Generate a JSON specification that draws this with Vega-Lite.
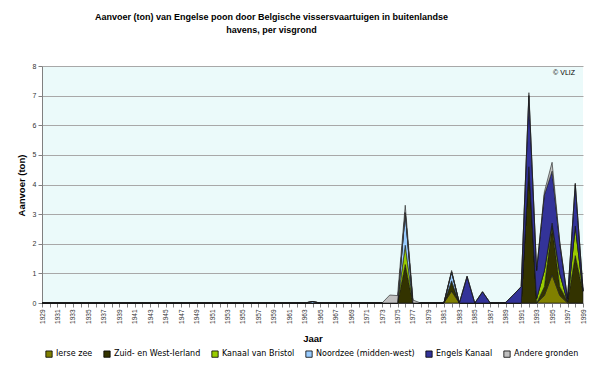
{
  "$schema": "https://vega.github.io/schema/vega-lite/v6.json",
  "autosize": "none",
  "width": 541,
  "height": 237,
  "padding": {"left": 42, "top": 66, "right": 17, "bottom": 65},
  "background": "#FFFFFF",
  "config": {
    "font": "Liberation Sans",
    "view": {"fill": "#EBFAFA", "stroke": null}
  },
  "title": {
    "text": ["Aanvoer (ton) van Engelse poon door Belgische vissersvaartuigen in buitenlandse", "havens, per visgrond"],
    "fontSize": 9,
    "fontWeight": "bold",
    "color": "#000000",
    "anchor": "middle",
    "frame": "group",
    "dx": -41,
    "offset": 27,
    "lineHeight": 13
  },
  "resolve": {"axis": {"x": "independent", "y": "independent"}},
  "datasets": {
    "series": [
      {"key": "ierse", "grond": "Ierse zee", "volgorde": 1},
      {"key": "zuid", "grond": "Zuid- en West-Ierland", "volgorde": 2},
      {"key": "bristol", "grond": "Kanaal van Bristol", "volgorde": 3},
      {"key": "noordzee", "grond": "Noordzee (midden-west)", "volgorde": 4},
      {"key": "engels", "grond": "Engels Kanaal", "volgorde": 5},
      {"key": "andere", "grond": "Andere gronden", "volgorde": 6}
    ],
    "jaren": [
      {"Jaar": 1929, "ierse": 0, "zuid": 0, "bristol": 0, "noordzee": 0, "engels": 0, "andere": 0},
      {"Jaar": 1930, "ierse": 0, "zuid": 0, "bristol": 0, "noordzee": 0, "engels": 0, "andere": 0},
      {"Jaar": 1931, "ierse": 0, "zuid": 0, "bristol": 0, "noordzee": 0, "engels": 0, "andere": 0},
      {"Jaar": 1932, "ierse": 0, "zuid": 0, "bristol": 0, "noordzee": 0, "engels": 0, "andere": 0},
      {"Jaar": 1933, "ierse": 0, "zuid": 0, "bristol": 0, "noordzee": 0, "engels": 0, "andere": 0},
      {"Jaar": 1934, "ierse": 0, "zuid": 0, "bristol": 0, "noordzee": 0, "engels": 0, "andere": 0},
      {"Jaar": 1935, "ierse": 0, "zuid": 0, "bristol": 0, "noordzee": 0, "engels": 0, "andere": 0},
      {"Jaar": 1936, "ierse": 0, "zuid": 0, "bristol": 0, "noordzee": 0, "engels": 0, "andere": 0},
      {"Jaar": 1937, "ierse": 0, "zuid": 0, "bristol": 0, "noordzee": 0, "engels": 0, "andere": 0},
      {"Jaar": 1938, "ierse": 0, "zuid": 0, "bristol": 0, "noordzee": 0, "engels": 0, "andere": 0},
      {"Jaar": 1939, "ierse": 0, "zuid": 0, "bristol": 0, "noordzee": 0, "engels": 0, "andere": 0},
      {"Jaar": 1940, "ierse": 0, "zuid": 0, "bristol": 0, "noordzee": 0, "engels": 0, "andere": 0},
      {"Jaar": 1941, "ierse": 0, "zuid": 0, "bristol": 0, "noordzee": 0, "engels": 0, "andere": 0},
      {"Jaar": 1942, "ierse": 0, "zuid": 0, "bristol": 0, "noordzee": 0, "engels": 0, "andere": 0},
      {"Jaar": 1943, "ierse": 0, "zuid": 0, "bristol": 0, "noordzee": 0, "engels": 0, "andere": 0},
      {"Jaar": 1944, "ierse": 0, "zuid": 0, "bristol": 0, "noordzee": 0, "engels": 0, "andere": 0},
      {"Jaar": 1945, "ierse": 0, "zuid": 0, "bristol": 0, "noordzee": 0, "engels": 0, "andere": 0},
      {"Jaar": 1946, "ierse": 0, "zuid": 0, "bristol": 0, "noordzee": 0, "engels": 0, "andere": 0},
      {"Jaar": 1947, "ierse": 0, "zuid": 0, "bristol": 0, "noordzee": 0, "engels": 0, "andere": 0},
      {"Jaar": 1948, "ierse": 0, "zuid": 0, "bristol": 0, "noordzee": 0, "engels": 0, "andere": 0},
      {"Jaar": 1949, "ierse": 0, "zuid": 0, "bristol": 0, "noordzee": 0, "engels": 0, "andere": 0},
      {"Jaar": 1950, "ierse": 0, "zuid": 0, "bristol": 0, "noordzee": 0, "engels": 0, "andere": 0},
      {"Jaar": 1951, "ierse": 0, "zuid": 0, "bristol": 0, "noordzee": 0, "engels": 0, "andere": 0},
      {"Jaar": 1952, "ierse": 0, "zuid": 0, "bristol": 0, "noordzee": 0, "engels": 0, "andere": 0},
      {"Jaar": 1953, "ierse": 0, "zuid": 0, "bristol": 0, "noordzee": 0, "engels": 0, "andere": 0},
      {"Jaar": 1954, "ierse": 0, "zuid": 0, "bristol": 0, "noordzee": 0, "engels": 0, "andere": 0},
      {"Jaar": 1955, "ierse": 0, "zuid": 0, "bristol": 0, "noordzee": 0, "engels": 0, "andere": 0},
      {"Jaar": 1956, "ierse": 0, "zuid": 0, "bristol": 0, "noordzee": 0, "engels": 0, "andere": 0},
      {"Jaar": 1957, "ierse": 0, "zuid": 0, "bristol": 0, "noordzee": 0, "engels": 0, "andere": 0},
      {"Jaar": 1958, "ierse": 0, "zuid": 0, "bristol": 0, "noordzee": 0, "engels": 0, "andere": 0},
      {"Jaar": 1959, "ierse": 0, "zuid": 0, "bristol": 0, "noordzee": 0, "engels": 0, "andere": 0},
      {"Jaar": 1960, "ierse": 0, "zuid": 0, "bristol": 0, "noordzee": 0, "engels": 0, "andere": 0},
      {"Jaar": 1961, "ierse": 0, "zuid": 0, "bristol": 0, "noordzee": 0, "engels": 0, "andere": 0},
      {"Jaar": 1962, "ierse": 0, "zuid": 0, "bristol": 0, "noordzee": 0, "engels": 0, "andere": 0},
      {"Jaar": 1963, "ierse": 0, "zuid": 0, "bristol": 0, "noordzee": 0, "engels": 0, "andere": 0},
      {"Jaar": 1964, "ierse": 0, "zuid": 0, "bristol": 0, "noordzee": 0.05, "engels": 0, "andere": 0},
      {"Jaar": 1965, "ierse": 0, "zuid": 0, "bristol": 0, "noordzee": 0, "engels": 0, "andere": 0},
      {"Jaar": 1966, "ierse": 0, "zuid": 0, "bristol": 0, "noordzee": 0, "engels": 0, "andere": 0},
      {"Jaar": 1967, "ierse": 0, "zuid": 0, "bristol": 0, "noordzee": 0, "engels": 0, "andere": 0},
      {"Jaar": 1968, "ierse": 0, "zuid": 0, "bristol": 0, "noordzee": 0, "engels": 0, "andere": 0},
      {"Jaar": 1969, "ierse": 0, "zuid": 0, "bristol": 0, "noordzee": 0, "engels": 0, "andere": 0},
      {"Jaar": 1970, "ierse": 0, "zuid": 0, "bristol": 0, "noordzee": 0, "engels": 0, "andere": 0},
      {"Jaar": 1971, "ierse": 0, "zuid": 0, "bristol": 0, "noordzee": 0, "engels": 0, "andere": 0},
      {"Jaar": 1972, "ierse": 0, "zuid": 0, "bristol": 0, "noordzee": 0, "engels": 0, "andere": 0},
      {"Jaar": 1973, "ierse": 0, "zuid": 0, "bristol": 0, "noordzee": 0, "engels": 0, "andere": 0},
      {"Jaar": 1974, "ierse": 0, "zuid": 0, "bristol": 0, "noordzee": 0, "engels": 0, "andere": 0.27},
      {"Jaar": 1975, "ierse": 0, "zuid": 0, "bristol": 0, "noordzee": 0, "engels": 0, "andere": 0.25},
      {"Jaar": 1976, "ierse": 0, "zuid": 1.3, "bristol": 0.65, "noordzee": 1.1, "engels": 0, "andere": 0.25},
      {"Jaar": 1977, "ierse": 0, "zuid": 0, "bristol": 0, "noordzee": 0, "engels": 0, "andere": 0.1},
      {"Jaar": 1978, "ierse": 0, "zuid": 0, "bristol": 0, "noordzee": 0, "engels": 0, "andere": 0},
      {"Jaar": 1979, "ierse": 0, "zuid": 0, "bristol": 0, "noordzee": 0, "engels": 0, "andere": 0},
      {"Jaar": 1980, "ierse": 0, "zuid": 0, "bristol": 0, "noordzee": 0, "engels": 0, "andere": 0},
      {"Jaar": 1981, "ierse": 0, "zuid": 0, "bristol": 0, "noordzee": 0, "engels": 0, "andere": 0},
      {"Jaar": 1982, "ierse": 0.4, "zuid": 0.3, "bristol": 0.05, "noordzee": 0.3, "engels": 0, "andere": 0.05},
      {"Jaar": 1983, "ierse": 0, "zuid": 0, "bristol": 0, "noordzee": 0, "engels": 0, "andere": 0},
      {"Jaar": 1984, "ierse": 0, "zuid": 0, "bristol": 0, "noordzee": 0, "engels": 0.9, "andere": 0},
      {"Jaar": 1985, "ierse": 0, "zuid": 0, "bristol": 0, "noordzee": 0, "engels": 0, "andere": 0},
      {"Jaar": 1986, "ierse": 0, "zuid": 0, "bristol": 0, "noordzee": 0, "engels": 0.38, "andere": 0},
      {"Jaar": 1987, "ierse": 0, "zuid": 0, "bristol": 0, "noordzee": 0, "engels": 0, "andere": 0},
      {"Jaar": 1988, "ierse": 0, "zuid": 0, "bristol": 0, "noordzee": 0, "engels": 0, "andere": 0},
      {"Jaar": 1989, "ierse": 0, "zuid": 0, "bristol": 0, "noordzee": 0, "engels": 0.02, "andere": 0},
      {"Jaar": 1990, "ierse": 0, "zuid": 0, "bristol": 0, "noordzee": 0, "engels": 0.28, "andere": 0},
      {"Jaar": 1991, "ierse": 0, "zuid": 0, "bristol": 0, "noordzee": 0, "engels": 0.55, "andere": 0},
      {"Jaar": 1992, "ierse": 0, "zuid": 4.6, "bristol": 0, "noordzee": 0, "engels": 2.4, "andere": 0.1},
      {"Jaar": 1993, "ierse": 0, "zuid": 0, "bristol": 0.15, "noordzee": 0, "engels": 0.95, "andere": 0},
      {"Jaar": 1994, "ierse": 0.25, "zuid": 0.3, "bristol": 0.55, "noordzee": 0, "engels": 2.55, "andere": 0.1},
      {"Jaar": 1995, "ierse": 0.95, "zuid": 1.65, "bristol": 0.1, "noordzee": 0, "engels": 1.75, "andere": 0.3},
      {"Jaar": 1996, "ierse": 0.25, "zuid": 0.3, "bristol": 0.45, "noordzee": 0, "engels": 1.0, "andere": 0.05},
      {"Jaar": 1997, "ierse": 0, "zuid": 0.05, "bristol": 0, "noordzee": 0, "engels": 0.1, "andere": 0},
      {"Jaar": 1998, "ierse": 0, "zuid": 1.6, "bristol": 1.0, "noordzee": 0, "engels": 1.4, "andere": 0.05},
      {"Jaar": 1999, "ierse": 0, "zuid": 0.4, "bristol": 0, "noordzee": 0, "engels": 0.05, "andere": 0}
    ]
  },
  "layer": [
    {
      "data": {"name": "jaren"},
      "transform": [
        {"fold": ["ierse", "zuid", "bristol", "noordzee", "engels", "andere"], "as": ["key", "ton"]},
        {"lookup": "key", "from": {"data": {"name": "series"}, "key": "key", "fields": ["grond", "volgorde"]}}
      ],
      "mark": {"type": "area", "stroke": "#1a1a1a", "strokeWidth": 0.6, "strokeJoin": "miter"},
      "encoding": {
        "x": {
          "field": "Jaar",
          "type": "quantitative",
          "scale": {"domain": [1929, 1999], "nice": false, "zero": false},
          "axis": {
            "values": [1929,1930,1931,1932,1933,1934,1935,1936,1937,1938,1939,1940,1941,1942,1943,1944,1945,1946,1947,1948,1949,1950,1951,1952,1953,1954,1955,1956,1957,1958,1959,1960,1961,1962,1963,1964,1965,1966,1967,1968,1969,1970,1971,1972,1973,1974,1975,1976,1977,1978,1979,1980,1981,1982,1983,1984,1985,1986,1987,1988,1989,1990,1991,1992,1993,1994,1995,1996,1997,1998,1999],
            "format": "d",
            "labelExpr": "datum.value % 2 == 1 ? datum.label : ''",
            "labelAngle": 270,
            "labelAlign": "right",
            "labelBaseline": "middle",
            "labelFontSize": 6.5,
            "labelColor": "#333333",
            "labelPadding": 2,
            "labelOverlap": false,
            "labelFlush": false,
            "tickSize": 4,
            "tickColor": "#808080",
            "domainColor": "#808080",
            "grid": false,
            "title": "Jaar",
            "titleFontSize": 9.5,
            "titleFontWeight": "bold",
            "titleColor": "#000000",
            "titleY": 35,
            "titleBaseline": "middle"
          }
        },
        "y": {
          "field": "ton",
          "type": "quantitative",
          "stack": "zero",
          "scale": {"domain": [0, 8], "nice": false},
          "axis": {
            "values": [0, 1, 2, 3, 4, 5, 6, 7, 8],
            "labelFontSize": 7,
            "labelColor": "#333333",
            "labelPadding": 2,
            "labelOverlap": false,
            "tickSize": 4,
            "tickColor": "#808080",
            "domainColor": "#808080",
            "grid": true,
            "gridColor": "#A8A8A8",
            "gridWidth": 1,
            "title": "Aanvoer (ton)",
            "titleFontSize": 9.5,
            "titleFontWeight": "bold",
            "titleColor": "#000000",
            "titleAngle": 270,
            "titleX": -21,
            "titleY": 119,
            "titleAlign": "center",
            "titleBaseline": "middle"
          }
        },
        "color": {
          "field": "grond",
          "type": "nominal",
          "scale": {
            "domain": ["Ierse zee", "Zuid- en West-Ierland", "Kanaal van Bristol", "Noordzee (midden-west)", "Engels Kanaal", "Andere gronden"],
            "range": ["#808000", "#333300", "#99CC00", "#99CCFF", "#333399", "#C0C0C0"]
          },
          "legend": {
            "orient": "none",
            "direction": "horizontal",
            "legendX": 3,
            "legendY": 284,
            "title": null,
            "symbolType": "square",
            "symbolSize": 40,
            "symbolStrokeColor": "#000000",
            "symbolStrokeWidth": 0.8,
            "symbolOpacity": 1,
            "labelFont": "DejaVu Sans",
            "labelFontSize": 8,
            "labelColor": "#000000",
            "labelOffset": 3,
            "columnPadding": 9
          }
        },
        "order": {"field": "volgorde", "type": "quantitative"}
      }
    },
    {
      "data": {"values": [{}]},
      "mark": {"type": "text", "text": "© VLIZ", "align": "right", "baseline": "top", "dx": -8, "dy": 3, "fontSize": 7, "color": "#000000"},
      "encoding": {
        "x": {"datum": 1999, "type": "quantitative", "axis": null},
        "y": {"datum": 8, "type": "quantitative", "axis": null}
      }
    }
  ]
}
